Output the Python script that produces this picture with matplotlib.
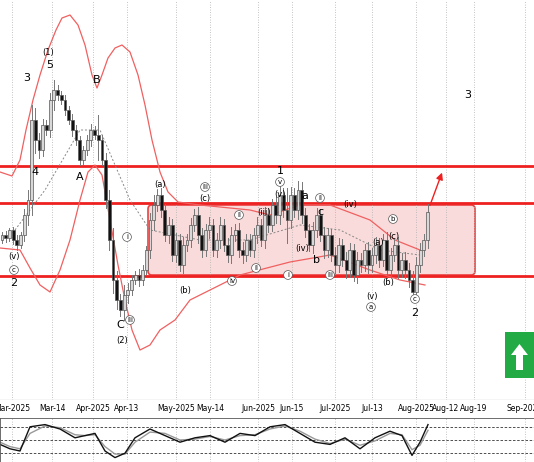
import numpy as np
import matplotlib.pyplot as plt
from matplotlib.patches import FancyBboxPatch, Rectangle, FancyArrow

# price in chart units (higher = up); x in chart units
CLOSES = [235, 238, 230, 240, 245, 235, 215, 200, 120, 140, 150, 125, 130, 100, 90, 95,
          100, 110, 120, 130, 140, 160, 150, 140, 130, 135, 140, 160, 200, 240,
          280, 300, 310, 295, 290, 280, 275, 280, 270, 250, 220, 205, 195,
          210, 235, 225, 255, 240, 265, 245, 240,
          225, 215, 235, 250, 230, 225, 250, 240, 225, 245,
          255, 235, 230, 250, 255, 240, 250, 235, 225, 240,
          215, 225, 205, 215, 195, 210, 220, 195,
          210, 190, 215, 230, 245, 230,
          215, 235, 250, 235, 255, 265, 245, 260,
          270, 250, 275, 260, 265, 250, 265, 255,
          245, 260, 240, 270, 255, 245, 270, 260,
          270, 280, 292, 265, 250, 240, 212]
WICKS = [6, 8, 5, 7, 10, 6, 12, 20, 30, 25, 15, 12, 10, 14, 20, 10,
         8, 10, 8, 12, 10, 9, 8, 10, 12, 8, 40, 10, 15, 20,
         25, 18, 12, 20, 15, 10, 8, 12, 10, 8, 15, 20, 12,
         14, 12, 16, 12, 14, 12, 16, 12,
         14, 12, 16, 14, 12, 16, 12, 14, 16, 12,
         14, 16, 12, 14, 16, 12, 12, 14, 16, 12,
         16, 14, 12, 16, 18, 14, 45, 16,
         14, 18, 16, 14, 12, 16,
         14, 12, 16, 14, 12, 16, 14, 12,
         16, 14, 12, 16, 14, 12, 16, 14,
         16, 14, 12, 16, 14, 12, 16, 14,
         16, 14, 18, 16, 14, 12, 16]
UPPER = [(0, 172), (12, 176), (20, 160), (26, 130), (33, 100), (40, 75), (48, 50), (56, 30),
         (62, 18), (70, 15), (78, 25), (85, 45), (92, 75), (97, 88), (102, 75), (108, 58),
         (115, 48), (122, 45), (130, 52), (138, 75), (145, 105), (152, 140), (160, 172),
         (168, 192), (178, 202), (200, 205), (250, 210), (270, 215), (300, 205),
         (330, 205), (370, 220), (395, 240), (420, 250)]
LOWER = [(0, 248), (20, 250), (30, 268), (40, 285), (50, 292), (60, 270), (70, 240),
         (80, 200), (88, 172), (95, 165), (102, 175), (110, 220), (118, 265), (125, 300),
         (132, 330), (140, 350), (150, 345), (160, 330), (175, 320), (190, 300),
         (240, 275), (290, 262), (330, 255), (370, 270), (400, 280), (425, 285)]
MIDDLE = [(15, 230), (45, 190), (80, 130), (100, 130), (130, 200), (150, 230), (200, 240),
          (250, 240), (300, 225), (340, 230), (380, 250), (420, 255)]
LEVELS = [166, 203, 276]
TICK_POS = [12, 52, 93, 127, 176, 210, 258, 292, 335, 372, 416, 446, 474, 525]
TICK_LABELS = ["Mar-2025", "Mar-14", "Apr-2025", "Apr-13", "May-2025", "May-14", "Jun-2025",
               "Jun-15", "Jul-2025", "Jul-13", "Aug-2025", "Aug-12", "Aug-19", "Sep-2025"]
OSC_X = [0, 10, 20, 30, 45, 60, 75, 85, 95, 105, 115, 125, 135, 150, 165, 180, 195, 210,
         225, 240, 255, 270, 285, 300, 315, 330, 345, 360, 375, 390, 402, 412, 420, 428]
OSC_K = [40, 30, 25, 80, 85, 75, 55, 60, 65, 25, 10, 20, 55, 75, 60, 45, 55, 60, 45,
         65, 60, 80, 85, 65, 45, 40, 55, 30, 55, 70, 60, 15, 45, 85]
OSC_D = [45, 35, 30, 65, 82, 78, 62, 60, 62, 35, 18, 18, 45, 68, 65, 50, 52, 58, 50,
         60, 62, 75, 82, 70, 52, 42, 52, 38, 48, 65, 62, 28, 38, 72]
WAVE = [(48, 52, "(1)"), (50, 65, "5"), (27, 78, "3"), (35, 172, "4"), (97, 80, "B"),
        (80, 177, "A"), (120, 325, "C"), (122, 340, "(2)"), (14, 283, "2"), (280, 171, "1"),
        (415, 313, "2"), (468, 95, "3"), (305, 196, "a"), (14, 257, "(v)"), (160, 185, "(a)"),
        (185, 291, "(b)"), (205, 199, "(c)"), (280, 194, "(v)"), (264, 212, "(iii)"),
        (302, 249, "(iv)"), (350, 204, "(iv)"), (378, 243, "(a)"), (394, 236, "(c)"),
        (388, 283, "(b)"), (372, 296, "(v)"), (317, 260, "b"), (320, 212, "c")]
CIRCLED = [(14, 270, "c"), (205, 187, "iii"), (280, 182, "v"), (127, 237, "i"), (130, 320, "iii"),
           (232, 281, "iv"), (256, 268, "ii"), (288, 275, "i"), (330, 275, "iii"),
           (320, 198, "ii"), (239, 215, "ii"), (371, 307, "a"), (393, 219, "b"), (415, 299, "c")]


def p(v):
    return 400 - v


fig = plt.figure(figsize=(5.34, 4.62), dpi=100)
ax = fig.add_axes([0, 62 / 462, 1, 400 / 462])
ax.set_xlim(0, 534)
ax.set_ylim(0, 400)

for x in TICK_POS:
    ax.axvline(x, color="#b0b0b0", lw=0.6, ls=(0, (1, 2)))

ax.add_patch(FancyBboxPatch((148, p(275)), 327, 70, boxstyle="round,pad=0,rounding_size=4",
                            fc="#f9d7d7", ec="#e83030", lw=1.2, alpha=0.9, zorder=1))
for lv in LEVELS:
    ax.axhline(p(lv), color="#ee2020", lw=2, zorder=2)

for pts in (UPPER, LOWER):
    xs, ys = zip(*pts)
    ax.plot(xs, [p(y) for y in ys], color="#f06060", lw=0.9, zorder=3)
xs, ys = zip(*MIDDLE)
ax.plot(xs, [p(y) for y in ys], color="#888888", lw=0.7, ls=(0, (2, 2)), zorder=3)

prev = CLOSES[0] + 5
for i, (c, w) in enumerate(zip(CLOSES, WICKS)):
    x = 2 + i * 3.7
    o = prev
    top, bot = min(o, c), max(o, c)
    ax.plot([x, x], [p(top - w * 0.5), p(bot + w * 0.5)], color="#777777", lw=0.7, zorder=4)
    bull = c < o
    ax.add_patch(Rectangle((x - 1.4, p(bot)), 2.8, max(bot - top, 1.5),
                           fc="#d8d8d8" if bull else "#111111", ec="#555555", lw=0.5, zorder=5))
    prev = c

ax.annotate("", xy=(443, p(170)), xytext=(429, p(208)),
            arrowprops=dict(arrowstyle="-|>", color="#ee2020", lw=1))

ax.add_patch(Rectangle((505, p(378)), 29, 46, fc="#22aa44", ec="none", zorder=6))
ax.add_patch(FancyArrow(519.5, p(370), 0, 26, width=7, head_width=17, head_length=11,
                        length_includes_head=True, fc="white", ec="none", zorder=7))

for x, y, t in WAVE:
    ax.text(x, p(y), t, ha="center", va="center", fontsize=8 if len(t) < 3 else 6, zorder=8)
for x, y, t in CIRCLED:
    ax.text(x, p(y), t, ha="center", va="center", fontsize=5, zorder=8,
            bbox=dict(boxstyle="circle,pad=0.2", fc="white", ec="#555555", lw=0.5))

ax.set_xticks(TICK_POS)
ax.set_xticklabels(TICK_LABELS, fontsize=5.5)
ax.tick_params(axis="x", pad=3, length=0)
ax.set_yticks([])
for sp in ax.spines.values():
    sp.set_visible(False)
ax.axhline(0.5, color="#555555", lw=0.8)

ox = fig.add_axes([0, 0, 1, 44 / 462])
ox.set_xlim(0, 534)
ox.set_ylim(0, 100)
for x in TICK_POS:
    ox.axvline(x, color="#b0b0b0", lw=0.6, ls=(0, (1, 2)))
for lv in (20, 50, 80):
    ox.axhline(lv, color="#333333", lw=0.6, ls=(0, (3, 2)))
ox.plot(OSC_X, OSC_D, color="#999999", lw=1)
ox.plot(OSC_X, OSC_K, color="#111111", lw=1)
ox.set_xticks([])
ox.set_yticks([])
for sp in ox.spines.values():
    sp.set_color("#555555")
    sp.set_linewidth(0.6)

fig.savefig("out.png", dpi=100)
